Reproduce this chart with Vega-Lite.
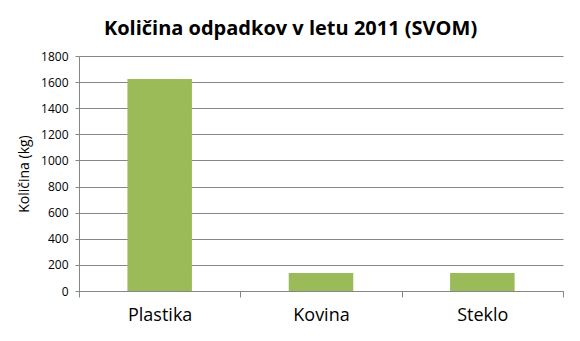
{
  "$schema": "https://vega.github.io/schema/vega-lite/v6.json",
  "width": 484,
  "height": 235,
  "autosize": "none",
  "padding": {"left": 79, "top": 56, "right": 17, "bottom": 50},
  "background": "white",
  "title": {
    "text": "Količina odpadkov v letu 2011 (SVOM)",
    "font": "Open Sans",
    "fontSize": 20,
    "fontWeight": "bold",
    "color": "black",
    "anchor": "middle",
    "frame": "bounds",
    "offset": 11
  },
  "data": {
    "values": [
      {"vrsta": "Plastika", "kolicina": 1624},
      {"vrsta": "Kovina", "kolicina": 138},
      {"vrsta": "Steklo", "kolicina": 138}
    ]
  },
  "mark": {"type": "bar", "color": "#9BBB59", "width": {"band": 0.4}},
  "encoding": {
    "x": {
      "field": "vrsta",
      "type": "nominal",
      "sort": null,
      "scale": {"paddingInner": 0, "paddingOuter": 0},
      "axis": {
        "title": null,
        "labelAngle": 0,
        "labelFont": "Open Sans",
        "labelFontSize": 18,
        "labelColor": "black",
        "labelPadding": 9,
        "tickBand": "extent",
        "tickSize": 6,
        "tickColor": "#868686",
        "domainColor": "#868686",
        "grid": false
      }
    },
    "y": {
      "field": "kolicina",
      "type": "quantitative",
      "scale": {"domain": [0, 1800], "nice": false},
      "axis": {
        "title": "Količina (kg)",
        "titleFont": "Open Sans",
        "titleFontSize": 14,
        "titleFontWeight": "normal",
        "titleColor": "black",
        "titlePadding": 9,
        "values": [0, 200, 400, 600, 800, 1000, 1200, 1400, 1600, 1800],
        "format": "d",
        "labelFont": "Open Sans",
        "labelFontSize": 12,
        "labelColor": "black",
        "labelPadding": 7,
        "tickSize": 4,
        "tickColor": "#868686",
        "domainColor": "#868686",
        "gridColor": "#868686",
        "gridOpacity": 1
      }
    }
  },
  "config": {"view": {"stroke": null}}
}
